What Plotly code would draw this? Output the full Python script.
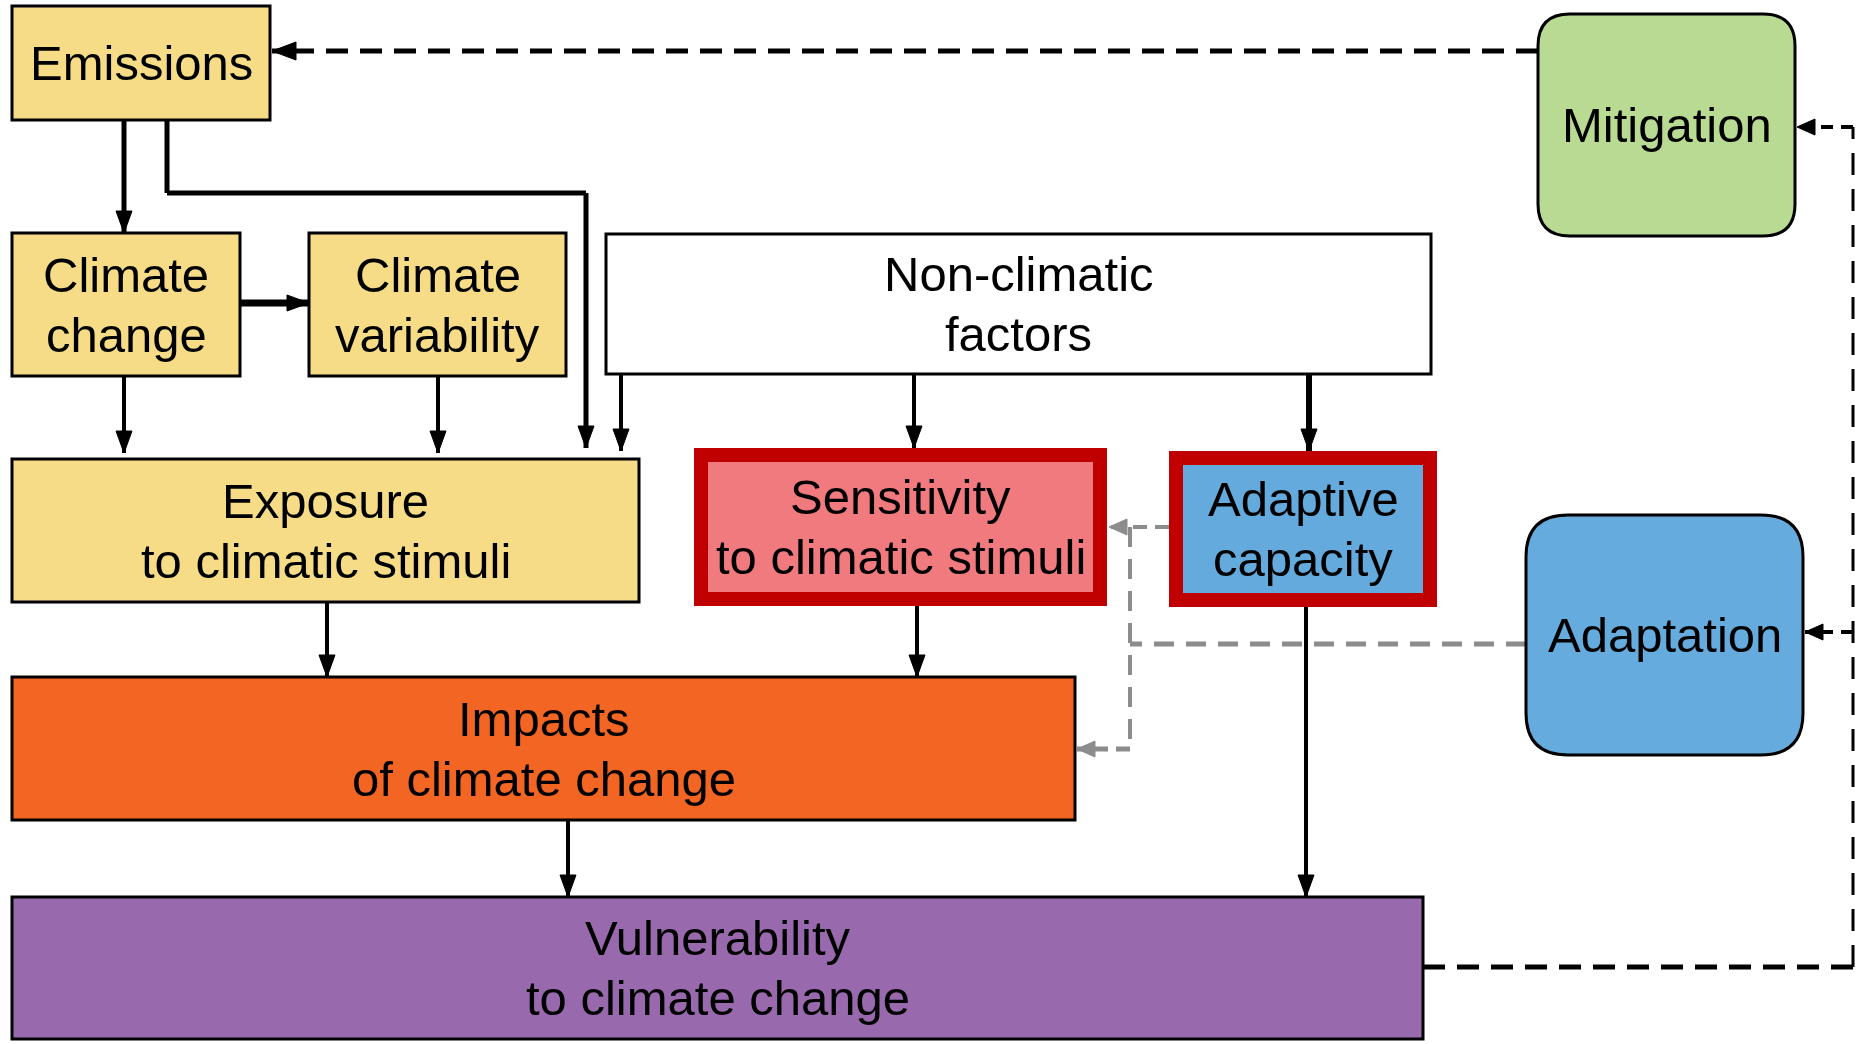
import plotly.graph_objects as go

W, H = 1870, 1044

# ---- diagram content (data) ----
node_ids = ["emissions", "mitigation", "cc", "cv", "nonclim", "exposure",
            "sensitivity", "adaptive", "adaptation", "impacts", "vulnerability"]
node_labels = ["Emissions", "Mitigation", "Climate<br>change", "Climate<br>variability",
               "Non-climatic<br>factors", "Exposure<br>to climatic stimuli",
               "Sensitivity<br>to climatic stimuli", "Adaptive<br>capacity",
               "Adaptation", "Impacts<br>of climate change",
               "Vulnerability<br>to climate change"]

# ---- geometry & style (layout) ----
box = {
    "emissions":     (12, 6, 270, 120),
    "mitigation":    (1538, 14, 1795, 236),
    "cc":            (12, 233, 240, 376),
    "cv":            (309, 233, 566, 376),
    "nonclim":       (606, 234, 1431, 374),
    "exposure":      (12, 459, 639, 602),
    "sensitivity":   (694, 448, 1107, 606),
    "adaptive":      (1169, 451, 1437, 607),
    "adaptation":    (1526, 515, 1803, 755),
    "impacts":       (12, 677, 1075, 820),
    "vulnerability": (12, 897, 1423, 1039),
}
fill = {
    "emissions": "#F6DC87", "mitigation": "#B8DA92", "cc": "#F6DC87", "cv": "#F6DC87",
    "nonclim": "#FFFFFF", "exposure": "#F6DC87", "sensitivity": "#F07A7E",
    "adaptive": "#64AADC", "adaptation": "#66ABDD", "impacts": "#F26522",
    "vulnerability": "#9869AC",
}
rounded = {"mitigation": 32, "adaptation": 42}
highlight = {"sensitivity", "adaptive"}
RED = "#C00000"
BORDER = 14
LINE_GAP = 60
FONT = dict(family="Arial, Liberation Sans, sans-serif", size=49, color="black")

shapes = []
annotations = []


def cx(n):
    b = box[n]
    return (b[0] + b[2]) / 2


def cy(n):
    b = box[n]
    return (b[1] + b[3]) / 2


def rrect_path(x0, y0, x1, y1, r):
    return (f"M{x0+r},{y0} L{x1-r},{y0} Q{x1},{y0} {x1},{y0+r} L{x1},{y1-r} "
            f"Q{x1},{y1} {x1-r},{y1} L{x0+r},{y1} Q{x0},{y1} {x0},{y1-r} "
            f"L{x0},{y0+r} Q{x0},{y0} {x0+r},{y0} Z")


def line(pts, color="black", width=4, dash="solid"):
    for (xa, ya), (xb, yb) in zip(pts[:-1], pts[1:]):
        shapes.append(dict(type="line", xref="x", yref="y", x0=xa, y0=ya, x1=xb, y1=yb,
                           line=dict(color=color, width=width, dash=dash), layer="above"))


def head(tip, direction, color="black", L=22, Wd=16):
    x, y = tip
    if direction == "down":
        p = f"M{x},{y} L{x-Wd/2},{y-L} L{x+Wd/2},{y-L} Z"
    elif direction == "left":
        p = f"M{x},{y} L{x+L},{y-Wd/2} L{x+L},{y+Wd/2} Z"
    else:  # right
        p = f"M{x},{y} L{x-L},{y-Wd/2} L{x-L},{y+Wd/2} Z"
    shapes.append(dict(type="path", xref="x", yref="y", path=p, fillcolor=color,
                       line=dict(color=color, width=1), layer="above"))


def arrow(pts, direction, color="black", width=4, dash="solid", L=22, Wd=16):
    line(pts, color, width, dash)
    head(pts[-1], direction, color, L, Wd)


# ---- connectors (drawn first) ----
GRAY = "#8C8C8C"
gx = 1130
# gray dashed feedback from adaptation
line([(box["adaptation"][0], 644), (gx, 644)], GRAY, 5, "20px,12px")
line([(gx, 527), (gx, 749)], GRAY, 4, "20px,12px")
arrow([(box["adaptive"][0], 527), (box["sensitivity"][2] + 2, 527)], "left", GRAY, 4, "14px,8px", 18, 16)
arrow([(gx, 749), (box["impacts"][2] + 2, 749)], "left", GRAY, 5, "14px,8px", 18, 16)

# black dashed loop
arrow([(box["mitigation"][0], 51), (box["emissions"][2] + 2, 51)], "left", "black", 5, "22px,12px", 24, 18)
rx = 1853
line([(box["vulnerability"][2], 967), (rx, 967)], "black", 5, "22px,12px")
line([(rx, 967), (rx, 127)], "black", 3, "22px,14px")
arrow([(rx, 127), (box["mitigation"][2] + 2, 127)], "left", "black", 4, "12px,8px", 18, 16)
arrow([(rx, 632), (box["adaptation"][2] + 2, 632)], "left", "black", 4, "12px,8px", 18, 16)

# solid arrows
arrow([(124, box["emissions"][3]), (124, box["cc"][1])], "down", width=5)
arrow([(167, box["emissions"][3]), (167, 193), (586, 193), (586, 448)], "down", width=5)
arrow([(box["cc"][2], 303), (box["cv"][0], 303)], "right", width=7)
arrow([(124, box["cc"][3]), (124, 453)], "down", width=4)
arrow([(438, box["cv"][3]), (438, 453)], "down", width=4)
arrow([(621, box["nonclim"][3]), (621, 451)], "down", width=4)
arrow([(914, box["nonclim"][3]), (914, box["sensitivity"][1])], "down", width=4)
arrow([(1309, box["nonclim"][3]), (1309, box["adaptive"][1])], "down", width=6)
arrow([(327, box["exposure"][3]), (327, box["impacts"][1])], "down", width=4)
arrow([(917, box["sensitivity"][3]), (917, box["impacts"][1])], "down", width=4)
arrow([(1306, box["adaptive"][3]), (1306, box["vulnerability"][1])], "down", width=4)
arrow([(568, box["impacts"][3]), (568, box["vulnerability"][1])], "down", width=4)

# ---- boxes ----
for n in node_ids:
    x0, y0, x1, y1 = box[n]
    if n in rounded:
        shapes.append(dict(type="path", xref="x", yref="y",
                           path=rrect_path(x0, y0, x1, y1, rounded[n]),
                           fillcolor=fill[n], line=dict(color="black", width=3), layer="above"))
    elif n in highlight:
        shapes.append(dict(type="rect", xref="x", yref="y", x0=x0, y0=y0, x1=x1, y1=y1,
                           fillcolor=RED, line=dict(width=0), layer="above"))
        shapes.append(dict(type="rect", xref="x", yref="y", x0=x0 + BORDER, y0=y0 + BORDER,
                           x1=x1 - BORDER, y1=y1 - BORDER,
                           fillcolor=fill[n], line=dict(width=0), layer="above"))
    else:
        shapes.append(dict(type="rect", xref="x", yref="y", x0=x0, y0=y0, x1=x1, y1=y1,
                           fillcolor=fill[n], line=dict(color="black", width=3), layer="above"))

for n, lab in zip(node_ids, node_labels):
    parts = lab.split("<br>")
    k = len(parts)
    for i, part in enumerate(parts):
        yy = cy(n) + (i - (k - 1) / 2) * LINE_GAP
        annotations.append(dict(x=cx(n), y=yy, xref="x", yref="y", text=part, showarrow=False,
                                font=FONT, align="center", xanchor="center", yanchor="middle"))

fig = go.Figure()
fig.update_layout(
    width=W, height=H, margin=dict(l=0, r=0, t=0, b=0),
    paper_bgcolor="white", plot_bgcolor="white",
    xaxis=dict(range=[0, W], visible=False, fixedrange=True),
    yaxis=dict(range=[H, 0], visible=False, fixedrange=True),
    shapes=shapes, annotations=annotations, showlegend=False,
)
fig.write_html("out.html", config={"displayModeBar": False},
               post_script="document.body.style.margin='0';document.body.style.overflow='hidden';")
